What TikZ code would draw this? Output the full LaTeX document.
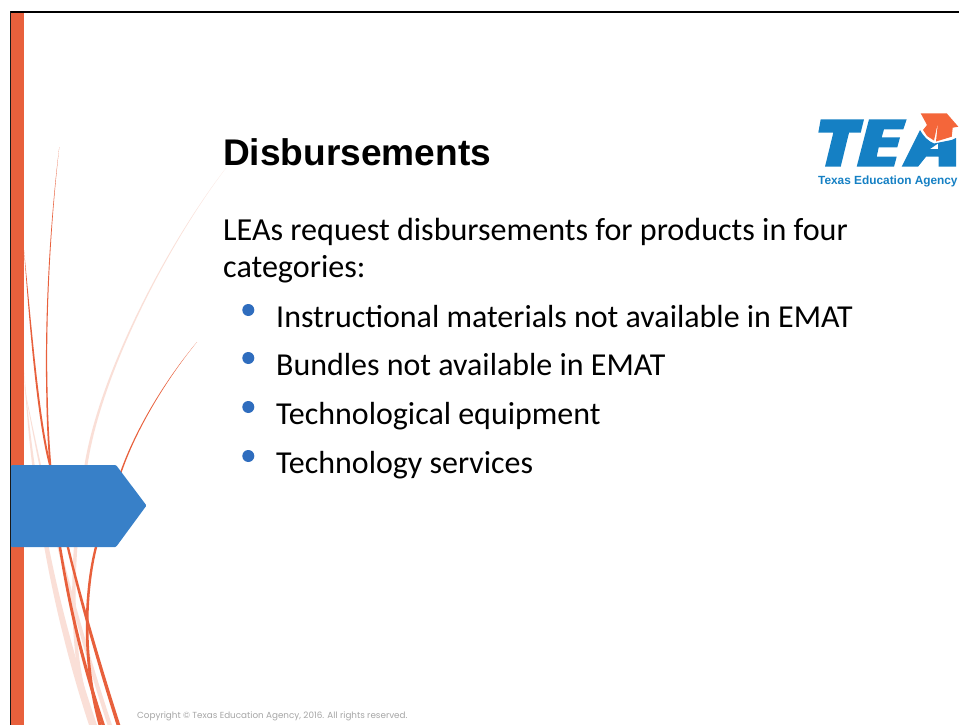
\documentclass[tikz,border=0pt]{standalone}
\usepackage{fontspec}
\setmainfont{Carlito}
\newfontfamily\titlefont{Liberation Sans}
\newfontfamily\footfont{Poppins}
\definecolor{accent}{HTML}{E8603C}
\definecolor{pale}{HTML}{FADFD7}
\definecolor{bluepanel}{HTML}{3880C8}
\definecolor{bulletblue}{HTML}{2F6DBE}
\definecolor{teablue}{HTML}{1580C4}
\definecolor{teaorange}{HTML}{F4663A}
\tikzset{
  bodytext/.style={anchor=base west,inner sep=0pt,font=\fontsize{32.1}{36}\selectfont,text=black},
  listtext/.style={anchor=base west,inner sep=0pt,font=\fontsize{31.95}{36}\selectfont,text=black},
  bulletdot/.style={circle,fill=bulletblue,minimum size=12pt,inner sep=0pt},
}
\begin{document}
\begin{tikzpicture}[x=1pt,y=-1pt]
\useasboundingbox (0,0) rectangle (959,725);
\fill[white] (0,0) rectangle (959,725);
% pale curves
\fill[pale] (226,168) .. controls (170,240) and (100,370) .. (84.5,465) .. controls (74.5,520) and (67.5,590) .. (76,660) .. controls (79,685) and (84,705) .. (91,725) -- (96,725) .. controls (88,705) and (83,685) .. (79.5,660) .. controls (71,590) and (78,520) .. (87.5,465) .. controls (102,370) and (171,240) .. (226,168) -- cycle;
\fill[pale] (24,370) .. controls (30,480) and (48,600) .. (89,725) -- (97,725) .. controls (54,600) and (33,480) .. (24,370) -- cycle;
\fill[pale] (24,385) .. controls (39,470) and (63.5,590) .. (107.5,725) -- (112,725) .. controls (67,590) and (41.5,470) .. (24,385) -- cycle;
% dark curves
\fill[accent] (59.3,147) .. controls (49.5,225) and (44.5,320) .. (46.3,395) .. controls (47,470) and (56.5,590) .. (101.5,725) -- (105,725) .. controls (59.5,590) and (49,470) .. (47.7,395) .. controls (45.5,320) and (50.5,225) .. (59.3,147) -- cycle;
\fill[accent] (24,250) .. controls (29,320) and (37,420) .. (49,465) .. controls (61,530) and (83.5,620) .. (116.5,725) -- (120.3,725) .. controls (86.5,620) and (63,530) .. (51,465) .. controls (39,420) and (31,320) .. (24,250) -- cycle;
\fill[accent] (197,342) .. controls (165,380) and (135,430) .. (120.2,472) .. controls (110,500) and (100,525) .. (94.8,547) .. controls (83.8,590) and (80.5,660) .. (98.5,725) -- (101.5,725) .. controls (83.5,660) and (86.2,590) .. (97.2,547) .. controls (103,525) and (112,500) .. (121.8,472) .. controls (136,430) and (166,380) .. (197,342) -- cycle;
% frame
\fill[accent] (11,13) rectangle (24,725);
\fill[black] (9.5,11) rectangle (959,13);
\fill[black!90] (9.5,11) rectangle (11,725);
% panel
\fill[bluepanel,rounded corners=1pt] (11,465) -- (116,465) -- (146.5,505.5) -- (116,547) -- (11,547) -- cycle;
% text
\node[anchor=base west,inner sep=0pt,font=\titlefont\bfseries\fontsize{37.1}{40}\selectfont] (title) at (223,165) {Disbursements};
\node[bodytext] (l1) at (223,240) {LEAs request disbursements for products in four};
\node[bodytext] (l2) at (223,277) {categories:};
\node[listtext] (b1) at (276,327) {Instructional materials not available in EMAT};
\node[listtext] (b2) at (276,375) {Bundles not available in EMAT};
\node[listtext] (b3) at (276,424) {Technological equipment};
\node[listtext] (b4) at (276,473) {Technology services};
\node[bulletdot] (d1) at (248.3,310) {};
\node[bulletdot] (d2) at (248.3,358) {};
\node[bulletdot] (d3) at (248.3,407) {};
\node[bulletdot] (d4) at (248.3,456) {};
\node[anchor=base west,inner sep=0pt,text=black!35,font=\footfont\fontsize{8.8}{10}\selectfont] (copy) at (137,718) {Copyright © Texas Education Agency, 2016. All rights reserved.};
% logo
\fill[teablue] (820.7,119.3) -- (864,119.3) -- (860.7,132.7) -- (849,132.7) -- (840.7,166.7) -- (825,166.7) -- (833.3,132.7) -- (818.3,132.7) -- cycle;
\fill[teablue] (869,119.3) -- (906.7,119.3) -- (903.3,129.3) -- (884,129.3) -- (881.7,137.3) -- (900,137.3) -- (897.3,147.3) -- (878.7,147.3) -- (876.7,156.7) -- (896.7,156.7) -- (894,166.7) -- (856.7,166.7) -- cycle;
\fill[teablue,even odd rule] (901.7,166.7) -- (920,130) .. controls (924,137) and (928,141) .. (934,143.5) -- (951.7,140) -- (956,138) -- (956,166.7) -- (938.5,166.7) -- (938.5,156.7) -- (926,156.7) -- (918,166.7) -- cycle (938,143.5) -- (930,149) -- (938,149) -- cycle;
\fill[teaorange] (920.7,113.3) -- (946.7,113.3) -- (958.3,126.7) -- (952.7,127.7) -- (951.7,136.7) -- (936,141.5) -- (938,122) -- (934,140.5) -- (927,136) -- (923,130) -- (927,125) -- cycle;
\node[anchor=base west,inner sep=0pt,text=teablue,font=\titlefont\bfseries\fontsize{11.85}{13}\selectfont] (agency) at (818,184) {Texas Education Agency};
\end{tikzpicture}
\end{document}
